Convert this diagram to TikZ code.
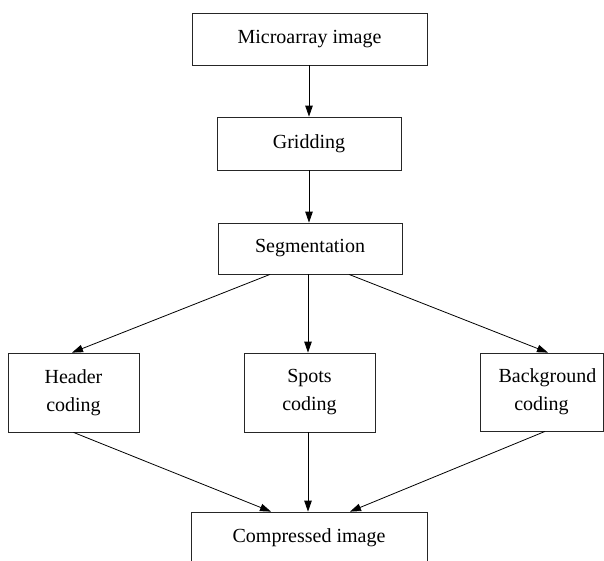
\documentclass[tikz,border=0pt]{standalone}
\usepackage{fontspec}
\setmainfont{Liberation Serif}
\usetikzlibrary{arrows.meta}
\begin{document}
\begin{tikzpicture}[x=1pt,y=-1pt,
  box/.style={draw=black!85,line width=0.8pt,inner sep=0pt,align=center,
    font=\fontsize{20}{28}\selectfont},
  flow/.style={line width=0.8pt,-{Stealth[length=11pt,width=7.5pt,inset=0pt]}}]
  \useasboundingbox[fill=white] (0,0) rectangle (604,560);
  \node[box,minimum width=235pt,minimum height=52pt] (micro) at (309.5,39) {Microarray image};
  \node[box,minimum width=184pt,minimum height=53pt] (grid) at (309,143.5) {Gridding};
  \node[box,minimum width=184pt,minimum height=51pt] (seg) at (310,248.5) {Segmentation};
  \node[box,minimum width=131pt,minimum height=79pt] (head) at (73.5,392.5) {Header\\coding};
  \node[box,minimum width=131pt,minimum height=79pt] (spots) at (309.5,392.5) {Spots\\coding};
  \node[box,minimum width=123pt,minimum height=78pt] (bg) at (541.5,392) {\hspace*{12pt}Background\\coding};
  \node[box,minimum width=236pt,minimum height=52pt] (comp) at (309,538) {Compressed image};

  \draw[flow] ([xshift=-0.5pt]micro.south) -- (grid.north);
  \draw[flow] (grid.south) -- (grid.south |- seg.north);
  \draw[flow] ([xshift=-40pt]seg.south) -- ([xshift=-1.5pt]head.north);
  \draw[flow] ([xshift=-2pt]seg.south) -- ([xshift=-1.5pt]spots.north);
  \draw[flow] ([xshift=39pt]seg.south) -- ([xshift=6.5pt]bg.north);
  \draw[flow] (head.south) -- ([xshift=-38pt]comp.north);
  \draw[flow] ([xshift=-1.5pt]spots.south) -- ([xshift=-1pt]comp.north);
  \draw[flow] ([xshift=3.5pt]bg.south) -- ([xshift=41pt]comp.north);
\end{tikzpicture}
\end{document}
